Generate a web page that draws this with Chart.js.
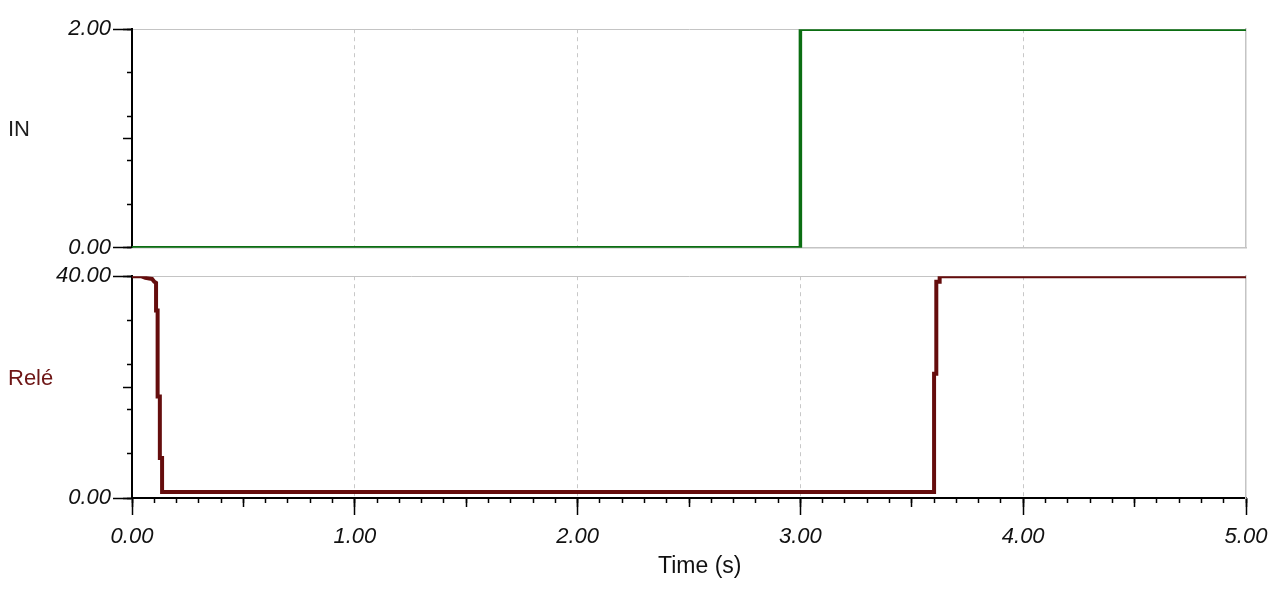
<!DOCTYPE html>
<html>
<head>
<meta charset="utf-8">
<script src="https://cdn.jsdelivr.net/npm/chart.js@4.4.1/dist/chart.umd.min.js"></script>
<style>
  html, body { margin: 0; padding: 0; background: #fff; }
  #wrap { position: relative; width: 1280px; height: 602px; overflow: hidden; }
  canvas { position: absolute; left: 0; }
  #topChart { top: 0; }
  #bottomChart { top: 247px; }
  .lbl { position: absolute; font-family: 'Liberation Sans', Arial, sans-serif; font-size: 22px; line-height: 22px; white-space: nowrap; }
</style>
</head>
<body>
<div id="wrap">
  <canvas id="topChart" width="1280" height="277"></canvas>
  <canvas id="bottomChart" width="1280" height="355"></canvas>
  <div class="lbl" style="left:8px; top:118px; color:#1e1e1e;">IN</div>
  <div class="lbl" style="left:8px; top:367px; color:#6e1616;">Relé</div>
  <div class="lbl" style="left:658px; top:554px; font-size:23px; color:#111;">Time (s)</div>
</div>
<script>
// IN signal (step at t = 3 s)
const inTime  = [0, 3.0, 3.0, 5.0];
const inValue = [0, 0, 2, 2];

// Relé output
const releTime  = [0, 0.04, 0.06, 0.09, 0.10, 0.108, 0.108, 0.115, 0.115, 0.125, 0.125, 0.135, 0.135, 3.60, 3.60, 3.61, 3.61, 3.625, 3.625, 5.0];
const releValue = [40, 40, 39.7, 39.5, 39.0, 38.8, 33.8, 33.8, 18.3, 18.3, 7.2, 7.2, 1.1, 1.1, 22.4, 22.4, 39.0, 39.0, 40, 40];

const timeTicks = [0, 1, 2, 3, 4, 5];

const AXIS = '#000';
const FRAME = '#c4c4c4';
const tickFont = { family: 'Liberation Sans', size: 22, style: 'italic' };

function toPoints(xs, ys) {
  return xs.map((x, i) => ({ x: x, y: ys[i] }));
}

// extra zero-width axis that only draws tick marks of a given length
function tickAxis(pos, max, step, len) {
  const horiz = pos === 'bottom' || pos === 'top';
  return {
    type: 'linear', position: pos, min: 0, max: max, weight: 0,
    ticks: { display: false, stepSize: step },
    grid: { drawOnChartArea: false, drawTicks: true, tickLength: len, tickColor: AXIS, tickWidth: 1.5 },
    border: { display: false },
    afterFit: s => { if (horiz) s.height = 0; else s.width = 0; }
  };
}

function mainY(max, step) {
  return {
    type: 'linear', position: 'left', min: 0, max: max, weight: 10,
    afterFit: s => { s.width = 132; },
    ticks: {
      stepSize: step, padding: 16, color: '#111', font: tickFont,
      callback: (v, i, t) => (i === 0 || i === t.length - 1) ? Number(v).toFixed(2) : ''
    },
    grid: {
      tickLength: 5, tickColor: AXIS, tickWidth: 1.5,
      color: c => (c.tick && Math.abs(c.tick.value - max) < 1e-9) ? FRAME : 'rgba(0,0,0,0)'
    },
    border: { color: AXIS, width: 2 }
  };
}

const rightFrame = {
  type: 'linear', position: 'right', min: 0, max: 1,
  ticks: { display: false }, grid: { display: false },
  border: { color: FRAME, width: 1.5 },
  afterFit: s => { s.width = 0; }
};

function xGrid(c) {
  const v = c.tick ? c.tick.value : 0;
  return (v > 0.01 && v < 4.99) ? '#c8c8c8' : 'rgba(0,0,0,0)';
}

function makeChart(id, data, color, width, yMax, yStep, bottomPanel) {
  const scales = {
    x: {
      type: 'linear', min: 0, max: 5, position: 'bottom', weight: 10,
      afterBuildTicks: s => { s.ticks = timeTicks.map(v => ({ value: v })); },
      ticks: {
        display: bottomPanel, padding: 9, color: '#111', font: tickFont, maxRotation: 0,
        callback: v => Number(v).toFixed(2)
      },
      grid: {
        color: xGrid, lineWidth: 1, drawTicks: bottomPanel,
        tickLength: 17, tickColor: AXIS, tickWidth: 1.5
      },
      border: { color: bottomPanel ? AXIS : FRAME, width: bottomPanel ? 2 : 1.5, dash: [4, 4] },
      afterFit: s => { s.height = bottomPanel ? 60 : 0; }
    },
    y: mainY(yMax, yStep),
    yMid: tickAxis('left', yMax, yMax / 2, 9),
    yLong: tickAxis('left', yMax, yMax, 19),
    yRight: rightFrame
  };
  if (bottomPanel) {
    scales.xMid = tickAxis('bottom', 5, 0.5, 9);
    scales.xMinor = tickAxis('bottom', 5, 0.1, 5);
  }
  return new Chart(document.getElementById(id), {
    type: 'line',
    data: {
      datasets: [{
        data: data,
        borderColor: color,
        borderWidth: width,
        pointRadius: 0,
        tension: 0,
        fill: false,
        xAxisID: 'x',
        yAxisID: 'y'
      }]
    },
    options: {
      responsive: false,
      animation: false,
      events: [],
      layout: bottomPanel ? { padding: { top: 14, right: 34, left: 0, bottom: 44 } }
                          : { padding: { top: 29, right: 34, left: 0, bottom: 15 } },
      plugins: { legend: { display: false }, tooltip: { enabled: false }, title: { display: false } },
      scales: scales
    }
  });
}

makeChart('topChart', toPoints(inTime, inValue), '#0b6e12', 3.5, 2, 0.2, false);
makeChart('bottomChart', toPoints(releTime, releValue), '#650d0d', 4, 40, 4, true);
</script>
</body>
</html>
